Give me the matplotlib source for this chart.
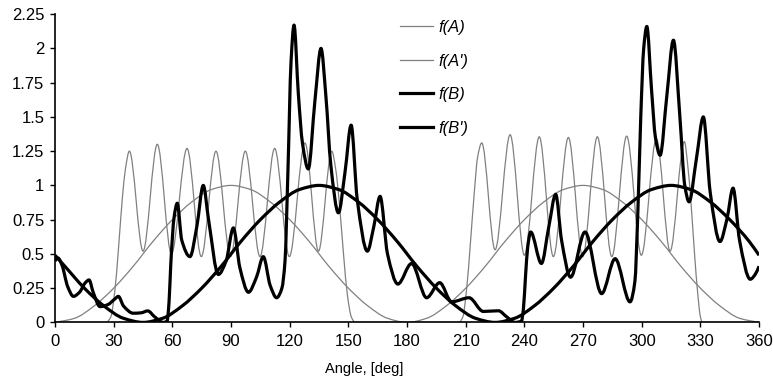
import numpy as np
import matplotlib
matplotlib.use("Agg")
import matplotlib.pyplot as plt
from matplotlib.path import Path
from matplotlib.patches import PathPatch
from matplotlib.lines import Line2D

plt.rcParams['font.family'] = ['Liberation Sans', 'DejaVu Sans']

# f(A): thin smooth curve, read every 10 deg
a_x = np.arange(0, 361, 10)
a_y = [0, 0.03, 0.12, 0.25, 0.41, 0.59, 0.75, 0.88, 0.97, 1.0,
       0.97, 0.88, 0.75, 0.59, 0.41, 0.25, 0.12, 0.03, 0,
       0.03, 0.12, 0.25, 0.41, 0.59, 0.75, 0.88, 0.97, 1.0,
       0.97, 0.88, 0.75, 0.59, 0.41, 0.25, 0.12, 0.03, 0]

# f(B): thick smooth curve, read at 0, 5, 15, ... 355, 360 deg
b_x = [0] + list(range(5, 360, 10)) + [360]
b_y = [0.49, 0.41, 0.25, 0.12, 0.03, 0, 0.03, 0.12, 0.25, 0.41,
       0.59, 0.75, 0.88, 0.97, 1.0, 0.97, 0.88, 0.75, 0.59,
       0.41, 0.25, 0.12, 0.03, 0, 0.03, 0.12, 0.25, 0.41,
       0.59, 0.75, 0.88, 0.97, 1.0, 0.97, 0.88, 0.75, 0.59, 0.49]

# f(A'): thin oscillating curve (peaks / valleys / flanks)
a2_x = [0, 26, 28.5, 30.5, 32.5, 34.5, 36, 38,
        45, 52.3, 59.5, 67.5, 74.8, 82.3, 89.7, 97.3, 104.8, 112.3, 119.8, 127.8, 134.7, 141.5,
        143.5, 145.5, 147.5, 149.5, 151.5, 153.5, 206.5,
        208.5, 210.5, 212.5, 214.5, 216, 218.2,
        225, 232.7, 240, 247.6, 254.8, 262.5, 269.8, 277.3, 284.7, 292.3, 299.8, 307.5, 314.5, 321.8,
        323.5, 325.3, 327, 328.7, 330, 331, 360]
a2_y = [0, 0, 0.04, 0.22, 0.55, 0.92, 1.12, 1.25,
        0.52, 1.30, 0.50, 1.27, 0.48, 1.25, 0.48, 1.25, 0.48, 1.27, 0.48, 1.31, 0.52, 1.25,
        1.12, 0.85, 0.5, 0.2, 0.04, 0, 0,
        0.04, 0.25, 0.6, 0.97, 1.2, 1.31,
        0.53, 1.37, 0.49, 1.355, 0.48, 1.35, 0.48, 1.355, 0.48, 1.36, 0.49, 1.34, 0.52, 1.32,
        1.15, 0.85, 0.5, 0.2, 0.04, 0, 0]

# f(B'): thick oscillating curve
b2_x = [0, 1.5, 3.5, 6.5, 9.4, 12.5, 15.5, 17.4, 19.5, 23, 27, 30.5, 32.4, 35, 40, 44, 47.4, 51,
        55.4, 57.3, 58.3, 59.2, 60.9, 62.5, 64.8, 69, 72.5, 75.8, 78.5, 83.5, 87.5, 91.2, 94.5,
        98.9, 103, 106.5, 110, 113.3, 116, 117.6, 119, 120.7, 122.2, 124.4, 126.5, 129.5, 132.9,
        136, 138.5, 141, 144.9, 148.3, 151.4, 154.5, 159.7, 163, 166.2, 170, 175.3, 182.3, 190,
        196.7, 202.8, 211.7, 219, 226.7, 231, 235.2, 238.5, 239.5, 240.5, 241.7, 243.2, 248.7,
        252.5, 256, 259, 263.6, 271, 279.5, 286.4, 294, 296.5, 298, 299.5, 301, 302.6, 305, 307,
        309.4, 312.8, 316.2, 319.5, 322, 324.2, 328, 331.5, 335, 340, 343.5, 346.7, 350, 355.5,
        358, 360]
b2_y = [0.45, 0.47, 0.42, 0.26, 0.19, 0.22, 0.29, 0.31, 0.22, 0.115, 0.13, 0.17, 0.19, 0.12, 0.067,
        0.07, 0.084, 0.04, 0.0, 0.01, 0.15, 0.43, 0.77, 0.87, 0.6, 0.48, 0.7, 1.0, 0.75, 0.35, 0.45,
        0.69, 0.4, 0.22, 0.33, 0.48, 0.27, 0.18, 0.25, 0.45, 1.06, 1.91, 2.17, 1.67, 1.31, 1.12,
        1.62, 2.0, 1.65, 1.15, 0.80, 1.1, 1.44, 0.9, 0.52, 0.7, 0.92, 0.5, 0.28, 0.43, 0.18, 0.29,
        0.15, 0.18, 0.08, 0.085, 0.04, 0.0, 0.01, 0.1, 0.32, 0.55, 0.66, 0.43, 0.7, 0.935, 0.6,
        0.33, 0.66, 0.21, 0.465, 0.15, 0.3, 0.8, 1.5, 2.0, 2.16, 1.7, 1.35, 1.22, 1.65, 2.06, 1.5,
        1.0, 0.88, 1.2, 1.5, 0.95, 0.59, 0.75, 0.98, 0.6, 0.315, 0.35, 0.41]

x_ticks = np.arange(0, 361, 30)
y_ticks = np.arange(0, 2.26, 0.25)
y_labels = ['0', '0.25', '0.5', '0.75', '1', '1.25', '1.5', '1.75', '2', '2.25']


def smooth_path(x, y):
    # smoothed line like a spreadsheet chart: monotone cubic Bezier segments
    x = np.asarray(x, float)
    y = np.asarray(y, float)
    h = np.diff(x)
    d = np.diff(y) / h
    m = np.zeros_like(x)
    m[0], m[-1] = d[0], d[-1]
    for i in range(1, len(x) - 1):
        if d[i - 1] * d[i] <= 0:
            m[i] = 0
        else:
            w1 = 2 * h[i] + h[i - 1]
            w2 = h[i] + 2 * h[i - 1]
            m[i] = (w1 + w2) / (w1 / d[i - 1] + w2 / d[i])
    verts = [(x[0], y[0])]
    codes = [Path.MOVETO]
    for i in range(len(x) - 1):
        verts += [(x[i] + h[i] / 3, y[i] + m[i] * h[i] / 3),
                  (x[i + 1] - h[i] / 3, y[i + 1] - m[i + 1] * h[i] / 3),
                  (x[i + 1], y[i + 1])]
        codes += [Path.CURVE4] * 3
    return Path(verts, codes)


fig = plt.figure(figsize=(7.73, 3.82), dpi=100)
ax = fig.add_axes([0.0712, 0.156, 0.9108, 0.807])

thin = dict(color='#808080', lw=0.9)
thick = dict(color='black', lw=2.3)

series = [(a_x, a_y, thin, "f(A)"), (a2_x, a2_y, thin, "f(A')"),
          (b_x, b_y, thick, "f(B)"), (b2_x, b2_y, thick, "f(B')")]
handles = []
for sx, sy, st, lab in series:
    ax.add_patch(PathPatch(smooth_path(sx, sy), fill=False, edgecolor=st['color'],
                           lw=st['lw'], joinstyle='round', capstyle='butt'))
    handles.append(Line2D([], [], color=st['color'], lw=st['lw'], label=lab))

ax.set_xlim(0, 360)
ax.set_ylim(0, 2.25)
ax.set_xticks(x_ticks)
ax.set_yticks(y_ticks)
ax.set_yticklabels(y_labels)
ax.tick_params(direction='out', length=3.6, width=1, labelsize=12)
ax.tick_params(axis='x', pad=4.5)
ax.tick_params(axis='y', pad=4)
for s in ['top', 'right']:
    ax.spines[s].set_visible(False)
for s in ['left', 'bottom']:
    ax.spines[s].set_linewidth(1.2)
ax.set_xlabel('Angle, [deg]', fontsize=10.5)
ax.xaxis.set_label_coords(0.439, -0.127)

leg = fig.legend(handles=handles, loc='upper left', bbox_to_anchor=(0.517, 0.948),
                 bbox_transform=fig.transFigure, frameon=False, borderpad=0,
                 borderaxespad=0, handlelength=2.0, handletextpad=0.3,
                 labelspacing=1.12, prop={'size': 12, 'style': 'italic'})

fig.savefig('out.png', dpi=100)
